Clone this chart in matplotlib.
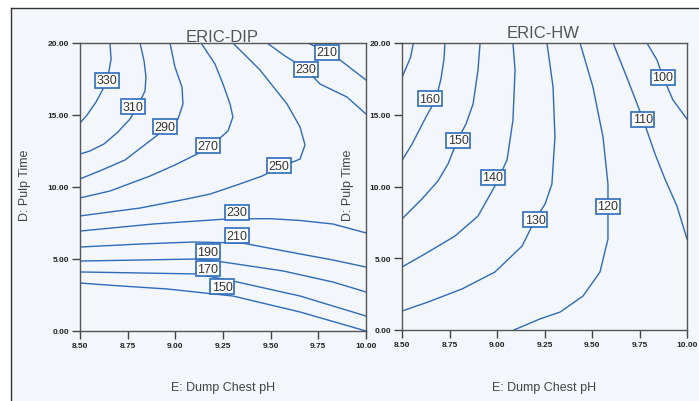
import matplotlib
matplotlib.use("Agg")
import matplotlib.pyplot as plt
from matplotlib.lines import Line2D
from matplotlib.patches import Rectangle

plt.rcParams['font.family'] = ['Liberation Sans', 'DejaVu Sans']

# ---- ERIC-DIP contour lines, x = E: Dump Chest pH, y = D: Pulp Time
dip_330_x = [8.657, 8.663, 8.652, 8.639, 8.626, 8.584, 8.537, 8.5]
dip_330_y = [20.0, 18.89, 18.06, 17.43, 16.94, 15.90, 15.0, 14.44]
dip_310_x = [8.815, 8.836, 8.846, 8.841, 8.80, 8.762, 8.699, 8.626, 8.552, 8.5]
dip_310_y = [20.0, 18.75, 17.64, 16.67, 15.55, 14.72, 13.82, 12.99, 12.5, 12.29]
dip_290_x = [8.972, 8.998, 9.035, 9.040, 9.014, 8.951, 8.893, 8.736, 8.615, 8.5]
dip_290_y = [20.0, 18.33, 16.94, 15.76, 14.72, 14.10, 13.47, 11.875, 11.18, 10.56]
dip_270_x = [9.135, 9.208, 9.250, 9.287, 9.302, 9.276, 9.182, 9.114, 8.998, 8.867, 8.657, 8.5]
dip_270_y = [20.0, 18.54, 17.15, 15.76, 14.86, 13.89, 12.78, 12.29, 11.53, 10.76, 9.72, 9.24]
dip_250_x = [9.302, 9.444, 9.586, 9.654, 9.680, 9.654, 9.549, 9.455, 9.323, 9.182, 9.061, 8.815, 8.5]
dip_250_y = [20.0, 18.125, 15.76, 14.17, 12.92, 11.94, 11.39, 10.76, 10.14, 9.51, 9.17, 8.54, 7.99]
dip_230a_x = [9.481, 9.575, 9.685, 9.759, 9.900, 10.0]
dip_230a_y = [20.0, 19.10, 18.19, 17.15, 16.25, 15.07]
dip_210a_x = [9.696, 9.795, 9.864, 10.0]
dip_210a_y = [20.0, 19.375, 18.82, 17.43]
dip_230b_x = [8.5, 8.883, 9.271, 9.496, 9.65, 9.827, 10.0]
dip_230b_y = [6.94, 7.43, 7.78, 7.80, 7.68, 7.43, 6.81]
dip_210b_x = [8.5, 8.815, 9.093, 9.35, 9.654, 9.827, 10.0]
dip_210b_y = [5.83, 6.04, 6.18, 6.11, 5.35, 4.93, 4.44]
dip_190_x = [8.5, 8.815, 9.114, 9.25, 9.565, 9.827, 10.0]
dip_190_y = [4.86, 4.93, 5.0, 4.79, 4.17, 3.40, 2.71]
dip_170_x = [8.5, 8.815, 9.114, 9.302, 9.654, 10.0]
dip_170_y = [4.10, 4.03, 3.96, 3.47, 2.43, 1.04]
dip_150_x = [8.5, 8.71, 8.956, 9.302, 9.654, 10.0]
dip_150_y = [3.33, 3.13, 2.92, 2.43, 1.32, 0.0]

dip_label_vals = [330, 310, 290, 270, 250, 230, 210, 230, 210, 190, 170, 150]
dip_label_x = [8.642, 8.778, 8.946, 9.171, 9.544, 9.685, 9.795, 9.323, 9.323, 9.171, 9.171, 9.245]
dip_label_y = [17.43, 15.56, 14.17, 12.85, 11.46, 18.19, 19.375, 8.26, 6.60, 5.49, 4.31, 3.06]

# ---- ERIC-HW contour lines
hw_170_x = [8.56, 8.545, 8.5]
hw_170_y = [20.0, 19.0, 17.6]
hw_160_x = [8.726, 8.721, 8.705, 8.679, 8.626, 8.553, 8.505]
hw_160_y = [20.0, 18.89, 17.49, 16.10, 14.84, 12.96, 11.92]
hw_150_x = [8.911, 8.9, 8.874, 8.837, 8.795, 8.742, 8.689, 8.605, 8.5]
hw_150_y = [20.0, 18.12, 15.75, 14.36, 13.31, 11.57, 10.38, 9.13, 7.74]
hw_140_x = [9.084, 9.095, 9.084, 9.053, 8.989, 8.9, 8.779, 8.621, 8.5]
hw_140_y = [20.0, 18.12, 14.63, 11.85, 10.03, 7.94, 6.55, 5.30, 4.39]
hw_130_x = [9.263, 9.295, 9.305, 9.289, 9.253, 9.2, 9.132, 8.989, 8.816, 8.637, 8.5]
hw_130_y = [20.0, 16.93, 13.45, 10.17, 8.78, 7.67, 5.85, 4.04, 2.86, 1.95, 1.32]
hw_120_x = [9.437, 9.505, 9.558, 9.584, 9.584, 9.584, 9.542, 9.453, 9.332, 9.226, 9.089]
hw_120_y = [20.0, 16.93, 13.45, 10.17, 8.64, 6.34, 4.04, 2.37, 1.25, 0.77, 0.0]
hw_110_x = [9.611, 9.689, 9.768, 9.832, 9.884, 9.947, 10.0]
hw_110_y = [20.0, 17.42, 14.70, 12.26, 10.52, 8.64, 6.34]
hw_100_x = [9.789, 9.842, 9.874, 9.926, 10.0]
hw_100_y = [20.0, 18.82, 17.63, 16.03, 14.70]

hw_label_vals = [160, 150, 140, 130, 120, 110, 100]
hw_label_x = [8.647, 8.795, 8.979, 9.2, 9.584, 9.768, 9.874]
hw_label_y = [16.10, 13.24, 10.66, 7.67, 8.64, 14.70, 17.63]

x_ticks = [8.50, 8.75, 9.00, 9.25, 9.50, 9.75, 10.00]
y_ticks = [0, 5, 10, 15, 20]

dip_lines = [(dip_330_x, dip_330_y), (dip_310_x, dip_310_y), (dip_290_x, dip_290_y),
             (dip_270_x, dip_270_y), (dip_250_x, dip_250_y), (dip_230a_x, dip_230a_y),
             (dip_210a_x, dip_210a_y), (dip_230b_x, dip_230b_y), (dip_210b_x, dip_210b_y),
             (dip_190_x, dip_190_y), (dip_170_x, dip_170_y), (dip_150_x, dip_150_y)]
hw_lines = [(hw_170_x, hw_170_y), (hw_160_x, hw_160_y), (hw_150_x, hw_150_y),
            (hw_140_x, hw_140_y), (hw_130_x, hw_130_y), (hw_120_x, hw_120_y),
            (hw_110_x, hw_110_y), (hw_100_x, hw_100_y)]

bg = '#f3f6fa'
line_col = '#2c6cbb'
W, H = 699, 402

fig = plt.figure(figsize=(W / 100, H / 100), dpi=100)
fig.patch.set_facecolor('white')
fig.patches.append(Rectangle((11 / W, 0), 1, 1 - 9 / H, transform=fig.transFigure,
                             facecolor=bg, edgecolor='none', zorder=-5))
fig.add_artist(Line2D([11 / W, 1], [1 - 9 / H, 1 - 9 / H], color='#333333', lw=1, zorder=-4))
fig.add_artist(Line2D([11 / W, 11 / W], [0, 1 - 9 / H], color='#333333', lw=1, zorder=-4))

ax1 = fig.add_axes([80 / W, 70 / H, 286 / W, 288 / H])
ax2 = fig.add_axes([402 / W, 71 / H, 285 / W, 287 / H])


def draw(ax, lines, vals, lx, ly):
    ax.set_facecolor(bg)
    for xs, ys in lines:
        ax.plot(xs, ys, color=line_col, lw=1.0, solid_joinstyle='round')
    for v, x, y in zip(vals, lx, ly):
        ax.text(x, y, str(v), ha='center', va='center', fontsize=9, color='#333333',
                bbox=dict(boxstyle='square,pad=0.12', facecolor='white',
                          edgecolor=line_col, lw=1.2), zorder=5)
    ax.set_xlim(8.5, 10.0)
    ax.set_ylim(0, 20)
    ax.set_xticks(x_ticks)
    ax.set_yticks(y_ticks)
    ax.set_xticklabels(['%.2f' % t for t in x_ticks])
    ax.set_yticklabels(['%.2f' % t for t in y_ticks])
    ax.tick_params(direction='out', length=6, width=1, color='#444444',
                   labelsize=6, labelcolor='#222222', pad=2)
    for lab in ax.get_xticklabels() + ax.get_yticklabels():
        lab.set_fontweight('bold')
    for s in ax.spines.values():
        s.set_color('#555555')
        s.set_linewidth(1.0)


draw(ax1, dip_lines, dip_label_vals, dip_label_x, dip_label_y)
draw(ax2, hw_lines, hw_label_vals, hw_label_x, hw_label_y)

fig.text(222 / W, 1 - 37 / H, 'ERIC-DIP', ha='center', va='center', fontsize=12, color='#555555')
fig.text(543 / W, 1 - 33 / H, 'ERIC-HW', ha='center', va='center', fontsize=12, color='#555555')
fig.text(223 / W, 1 - 388 / H, 'E: Dump Chest pH', ha='center', va='center', fontsize=9, color='#444444')
fig.text(544 / W, 1 - 388 / H, 'E: Dump Chest pH', ha='center', va='center', fontsize=9, color='#444444')
fig.text(25 / W, 1 - 185 / H, 'D: Pulp Time', ha='center', va='center', rotation=90,
         fontsize=9, color='#444444')
fig.text(348 / W, 1 - 185 / H, 'D: Pulp Time', ha='center', va='center', rotation=90,
         fontsize=9, color='#444444')

fig.savefig('out.png', dpi=100)
